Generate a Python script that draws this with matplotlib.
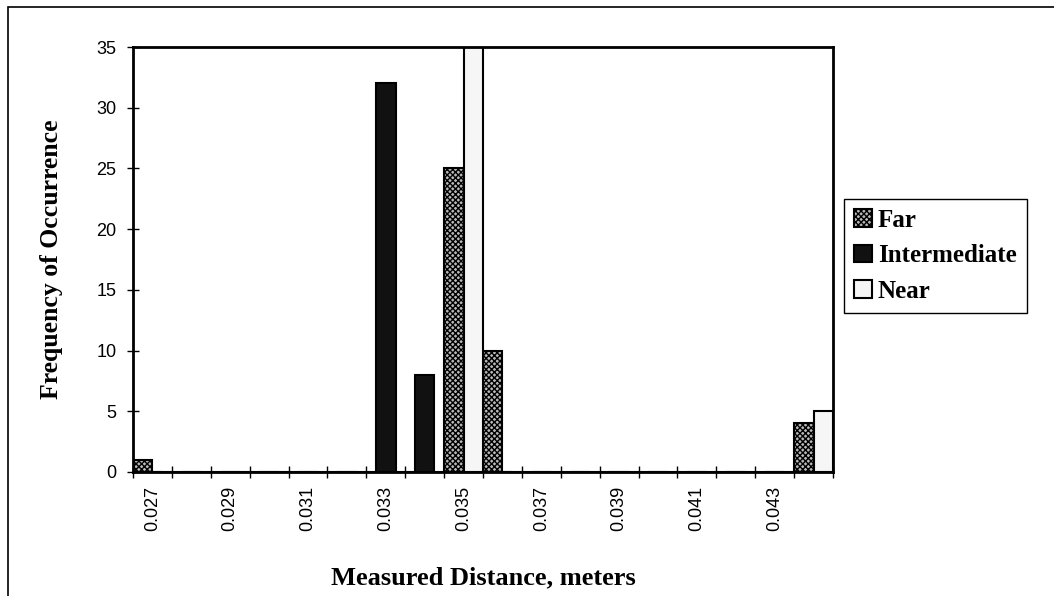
import numpy as np
import matplotlib
matplotlib.use('Agg')
from matplotlib import pyplot as plt
from matplotlib.patches import Rectangle

# Histogram of measured distances for the three target ranges
distances = ['0.027', '0.028', '0.029', '0.030', '0.031', '0.032', '0.033', '0.034', '0.035',
             '0.036', '0.037', '0.038', '0.039', '0.040', '0.041', '0.042', '0.043', '0.044']
far = [1, 0, 0, 0, 0, 0, 0, 0, 25, 10, 0, 0, 0, 0, 0, 0, 0, 4]
intermediate = [0, 0, 0, 0, 0, 0, 32, 8, 0, 0, 0, 0, 0, 0, 0, 0, 0, 0]
near = [0, 0, 0, 0, 0, 0, 0, 0, 35, 0, 0, 0, 0, 0, 0, 0, 0, 5]

plt.rcParams['hatch.linewidth'] = 1.0
serif = 'Liberation Serif'
sans = 'Liberation Sans'

fig = plt.figure(figsize=(10.54, 5.96), dpi=100)
ax = fig.add_axes([133/1054, 1 - 472/596, 700/1054, 425/596])

x = np.arange(len(distances))
w = 0.5
ax.bar(x - 0.25, far, w, facecolor='#b8b8b8', edgecolor='black', hatch='xxxxxx', linewidth=1.5, label='Far')
ax.bar(x, intermediate, w, facecolor='#111111', edgecolor='black', linewidth=1.5, label='Intermediate')
ax.bar(x + 0.25, near, w, facecolor='#f6f6f6', edgecolor='black', linewidth=1.5, label='Near')

ax.set_xlim(-0.5, len(distances) - 0.5)
ax.set_ylim(0, 35)
ax.set_yticks(range(0, 36, 5))
ax.tick_params(axis='y', direction='inout', length=8, width=1, pad=8, labelsize=13)
for t in ax.get_yticklabels():
    t.set_fontfamily(sans)

# labels on every other category, tick marks on category boundaries
ax.set_xticks(x[::2])
ax.set_xticklabels(distances[::2], rotation=90, fontsize=13, fontfamily=sans)
ax.set_xticks(np.arange(len(distances) + 1) - 0.5, minor=True)
ax.tick_params(axis='x', which='major', length=0, pad=10)
ax.tick_params(axis='x', which='minor', direction='inout', length=8, width=1)

for s in ax.spines.values():
    s.set_linewidth(2)

ax.set_ylabel('Frequency of Occurrence', fontsize=18.5, fontweight='bold', fontfamily=serif, labelpad=24)
ax.set_xlabel('Measured Distance, meters', fontsize=19, fontweight='bold', fontfamily=serif, labelpad=25)

leg = ax.legend(loc='upper left', bbox_to_anchor=(844/1054, 1 - 199/596), bbox_transform=fig.transFigure,
                frameon=True, fancybox=False, edgecolor='black', framealpha=1,
                prop={'family': serif, 'weight': 'bold', 'size': 18},
                handlelength=0.7, handleheight=0.7, handletextpad=0.25, labelspacing=0.5,
                borderpad=0.4, borderaxespad=0)
leg.get_frame().set_linewidth(1)

# outer chart frame
fig.patches.append(Rectangle((8/1054, -0.05), 1.2, 1.05 - 7/596, transform=fig.transFigure,
                             fill=False, edgecolor='black', linewidth=1.2))

fig.savefig('out.png', dpi=100)
